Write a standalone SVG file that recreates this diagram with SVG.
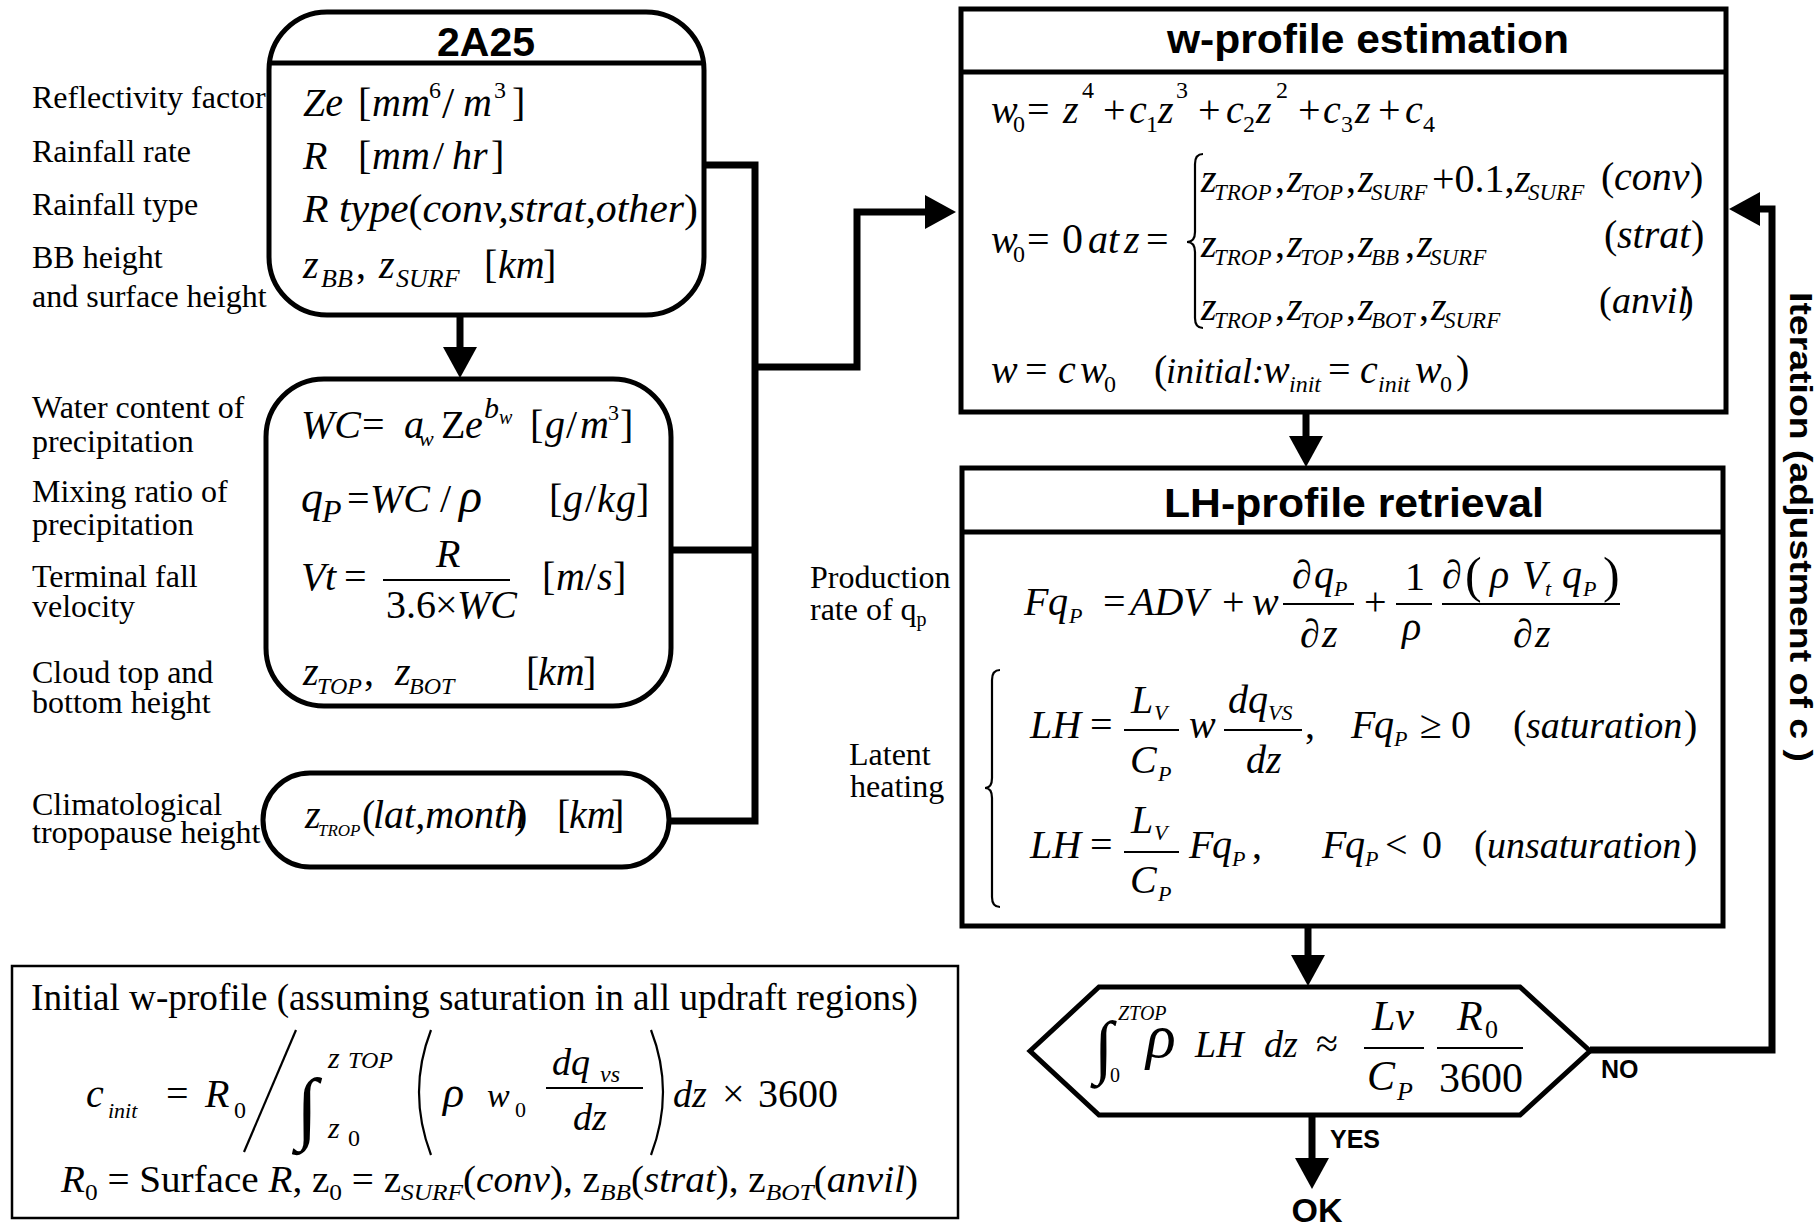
<svg xmlns="http://www.w3.org/2000/svg" width="1816" height="1230" viewBox="0 0 1816 1230">
<style>
.bx{fill:#fff;stroke:#000;stroke-width:5}
.bt{fill:#fff;stroke:#000;stroke-width:2.5}
.hl{stroke:#000;stroke-width:5}
.cn{fill:none;stroke:#000;stroke-width:7;stroke-linejoin:miter}
.fl{stroke:#000;stroke-width:2}
.dl{fill:none;stroke:#000;stroke-width:2.2}
text{font-family:"Liberation Serif","Times New Roman",serif;fill:#000}
.lb{font-size:32px}
.m{font-size:40px;font-style:italic}
.u{font-style:normal}
.h{font-family:"Liberation Sans",Arial,sans-serif;font-weight:bold}
</style>
<defs>
<marker id="ah" markerUnits="userSpaceOnUse" markerWidth="32" markerHeight="36" refX="0" refY="17" orient="auto" overflow="visible">
<path d="M0,0 L31,17 L0,34 z" fill="#000"/>
</marker>
</defs>
<rect width="1816" height="1230" fill="#fff"/>

<g id="connectors">
<path class="cn" d="M704,165 H755 V821 H669"/>
<path class="cn" d="M671,550 H755"/>
<path class="cn" d="M755,367 H857 V212 H925" marker-end="url(#ah)"/>
<path class="cn" d="M460,315 V347" marker-end="url(#ah)"/>
<path class="cn" d="M1306,412 V436" marker-end="url(#ah)"/>
<path class="cn" d="M1308,926 V955" marker-end="url(#ah)"/>
<path class="cn" d="M1312,1115 V1158" marker-end="url(#ah)"/>
<path class="cn" d="M1590,1050 H1772 V209 H1760" marker-end="url(#ah)"/>
<text class="h" font-size="25" x="1330" y="1148">YES</text>
<text class="h" font-size="25" x="1601" y="1078">NO</text>
<text class="h" font-size="32" textLength="470" lengthAdjust="spacingAndGlyphs" transform="translate(1790,292) rotate(90)">Iteration (adjustment of c )</text>
</g>

<g id="n2a25">
<rect class="bx" x="269" y="12" width="435" height="303" rx="58" stroke-width="4.5"/>
<line class="hl" x1="270" y1="63" x2="703" y2="63" stroke-width="4.5"/>
<text class="h" font-size="41" x="486" y="56" text-anchor="middle">2A25</text>
<text class="m"><tspan x="303" y="116">Ze</tspan><tspan class="u" x="358" y="116">[</tspan><tspan x="372" y="116">mm</tspan><tspan class="u" x="429" y="98" font-size="24">6</tspan><tspan class="u" x="442" y="118" font-size="44">/</tspan><tspan x="463" y="116">m</tspan><tspan class="u" x="494" y="98" font-size="24">3</tspan><tspan class="u" x="512" y="116">]</tspan></text>
<text class="m"><tspan x="303" y="169">R</tspan><tspan class="u" x="358" y="169">[</tspan><tspan x="372" y="169">mm</tspan><tspan class="u" x="433" y="169">/</tspan><tspan x="452" y="169">hr</tspan><tspan class="u" x="491" y="169">]</tspan></text>
<text class="m" x="303" y="222" textLength="395" lengthAdjust="spacingAndGlyphs">R type<tspan class="u">(</tspan>conv,strat,other<tspan class="u">)</tspan></text>
<text class="m"><tspan x="303" y="278">z</tspan><tspan x="321" y="287" font-size="26">BB</tspan><tspan class="u" x="356" y="278">,</tspan><tspan x="379" y="278">z</tspan><tspan x="396" y="287" font-size="26">SURF</tspan><tspan class="u" x="484" y="278">[</tspan><tspan x="498" y="278">km</tspan><tspan class="u" x="543" y="278">]</tspan></text>
</g>
<g id="lbl2a25">
<text class="lb" x="32" y="108">Reflectivity factor</text>
<text class="lb" x="32" y="162">Rainfall rate</text>
<text class="lb" x="32" y="215">Rainfall type</text>
<text class="lb" x="32" y="268">BB height</text>
<text class="lb" x="32" y="307">and surface height</text>
</g>

<g id="nwc">
<rect class="bx" x="266" y="379" width="405" height="327" rx="58" stroke-width="4.5"/>
<text class="m"><tspan x="301" y="438">WC</tspan><tspan class="u" x="362" y="438">=</tspan><tspan x="404" y="438">a</tspan><tspan x="419" y="446" font-size="22">w</tspan><tspan class="u" x="441" y="438">Z</tspan><tspan x="465" y="438">e</tspan><tspan x="484" y="418" font-size="30">b</tspan><tspan x="499" y="424" font-size="20">w</tspan><tspan class="u" x="530" y="438">[</tspan><tspan x="545" y="438">g</tspan><tspan class="u" x="566" y="438">/</tspan><tspan x="580" y="438">m</tspan><tspan class="u" x="608" y="420" font-size="22">3</tspan><tspan class="u" x="620" y="438">]</tspan></text>
<text class="m"><tspan x="301" y="512" font-size="44">q</tspan><tspan x="322" y="522" font-size="32">P</tspan><tspan class="u" x="347" y="512">=</tspan><tspan x="370" y="512">WC</tspan><tspan class="u" x="440" y="512">/</tspan><tspan x="459" y="512" font-size="48">ρ</tspan><tspan class="u" x="549" y="512">[</tspan><tspan x="563" y="512">g</tspan><tspan class="u" x="585" y="512">/</tspan><tspan x="597" y="512">k</tspan><tspan x="616" y="512">g</tspan><tspan class="u" x="636" y="512">]</tspan></text>
<text class="m"><tspan x="301" y="590">V</tspan><tspan x="325" y="590">t</tspan><tspan class="u" x="344" y="590">=</tspan><tspan x="436" y="567">R</tspan><tspan class="u" x="386" y="618">3.6</tspan><tspan class="u" x="435" y="618">×</tspan><tspan x="457" y="618">WC</tspan><tspan class="u" x="542" y="590">[</tspan><tspan x="556" y="590">m</tspan><tspan class="u" x="585" y="590">/</tspan><tspan x="597" y="590">s</tspan><tspan class="u" x="613" y="590">]</tspan></text>
<line class="fl" x1="383" y1="580" x2="510" y2="580"/>
<text class="m" font-size="34"><tspan x="303" y="685">z</tspan><tspan x="317" y="694" font-size="24">TOP</tspan><tspan class="u" x="364" y="685">,</tspan><tspan x="395" y="685">z</tspan><tspan x="409" y="694" font-size="24">BOT</tspan><tspan class="u" x="526" y="685">[</tspan><tspan x="538" y="685">km</tspan><tspan class="u" x="583" y="685">]</tspan></text>
</g>
<g id="lblwc">
<text class="lb" x="32" y="418">Water content of</text>
<text class="lb" x="32" y="452">precipitation</text>
<text class="lb" x="32" y="502">Mixing ratio of</text>
<text class="lb" x="32" y="535">precipitation</text>
<text class="lb" x="32" y="587">Terminal fall</text>
<text class="lb" x="32" y="617">velocity</text>
<text class="lb" x="32" y="683">Cloud top and</text>
<text class="lb" x="32" y="713">bottom height</text>
</g>

<g id="ntrop">
<rect class="bx" x="263" y="773" width="406" height="94" rx="47" stroke-width="4.5"/>
<text class="m" font-size="34"><tspan x="305" y="828">z</tspan><tspan x="318" y="836" font-size="17">TROP</tspan><tspan class="u" x="362" y="828">(</tspan><tspan x="373" y="828">lat,month</tspan><tspan class="u" x="514" y="828">)</tspan><tspan class="u" x="557" y="828">[</tspan><tspan x="569" y="828">km</tspan><tspan class="u" x="611" y="828">]</tspan></text>
<text class="lb" x="32" y="815">Climatological</text>
<text class="lb" x="32" y="843">tropopause height</text>
</g>

<g id="ninit">
<rect class="bt" x="12" y="966" width="946" height="252"/>
<text font-size="37" x="31" y="1010" textLength="887" lengthAdjust="spacingAndGlyphs">Initial w-profile (assuming saturation in all updraft regions)</text>
<text class="m" font-size="40"><tspan x="86" y="1107">c</tspan><tspan x="108" y="1118" font-size="22">init</tspan><tspan class="u" x="166" y="1107">=</tspan><tspan x="205" y="1107">R</tspan><tspan class="u" x="234" y="1118" font-size="24">0</tspan><tspan class="u" x="296" y="1134" font-size="80">∫</tspan><tspan x="328" y="1068" font-size="30">z</tspan><tspan x="348" y="1068" font-size="24">TOP</tspan><tspan x="328" y="1138" font-size="30">z</tspan><tspan class="u" x="348" y="1146" font-size="24">0</tspan><tspan x="443" y="1107" font-size="44">ρ</tspan><tspan x="487" y="1107" font-size="34">w</tspan><tspan class="u" x="515" y="1117" font-size="22">0</tspan><tspan x="552" y="1075" font-size="38">dq</tspan><tspan x="600" y="1082" font-size="24">vs</tspan><tspan x="573" y="1130" font-size="38">dz</tspan><tspan x="673" y="1107" font-size="38">dz</tspan><tspan class="u" x="722" y="1107">×</tspan><tspan class="u" x="758" y="1107">3600</tspan></text>
<line class="dl" x1="296" y1="1030" x2="244" y2="1152"/>
<path class="dl" d="M431,1030 Q407,1092 431,1155"/>
<path class="dl" d="M651,1030 Q675,1092 651,1155"/>
<line class="fl" x1="546" y1="1088" x2="643" y2="1088"/>
<text font-size="37" x="61" y="1192" textLength="857" lengthAdjust="spacingAndGlyphs"><tspan font-style="italic">R</tspan><tspan font-size="24" dy="8">0</tspan><tspan dy="-8"> = Surface </tspan><tspan font-style="italic">R</tspan>,  z<tspan font-size="24" dy="8">0</tspan><tspan dy="-8"> = z</tspan><tspan font-size="24" dy="8" font-style="italic">SURF</tspan><tspan dy="-8">(</tspan><tspan font-style="italic">conv</tspan>), z<tspan font-size="24" dy="8" font-style="italic">BB</tspan><tspan dy="-8">(</tspan><tspan font-style="italic">strat</tspan>), z<tspan font-size="24" dy="8" font-style="italic">BOT</tspan><tspan dy="-8">(</tspan><tspan font-style="italic">anvil</tspan>)</text>
</g>

<g id="nwprof">
<rect class="bx" x="961" y="9" width="765" height="403"/>
<line class="hl" x1="961" y1="72" x2="1726" y2="72"/>
<text class="h" font-size="40" x="1368" y="53" text-anchor="middle" textLength="402" lengthAdjust="spacingAndGlyphs">w-profile estimation</text>
<text class="m" font-size="38"><tspan x="991" y="123">w</tspan><tspan class="u" x="1013" y="132" font-size="24">0</tspan><tspan class="u" x="1027" y="123">=</tspan><tspan x="1063" y="123">z</tspan><tspan class="u" x="1082" y="98" font-size="24">4</tspan><tspan class="u" x="1103" y="123">+</tspan><tspan x="1129" y="123">c</tspan><tspan class="u" x="1146" y="132" font-size="24">1</tspan><tspan x="1158" y="123">z</tspan><tspan class="u" x="1176" y="98" font-size="24">3</tspan><tspan class="u" x="1198" y="123">+</tspan><tspan x="1226" y="123">c</tspan><tspan class="u" x="1243" y="132" font-size="24">2</tspan><tspan x="1256" y="123">z</tspan><tspan class="u" x="1276" y="98" font-size="24">2</tspan><tspan class="u" x="1298" y="123">+</tspan><tspan x="1323" y="123">c</tspan><tspan class="u" x="1341" y="132" font-size="24">3</tspan><tspan x="1355" y="123">z</tspan><tspan class="u" x="1378" y="123">+</tspan><tspan x="1405" y="123">c</tspan><tspan class="u" x="1423" y="132" font-size="24">4</tspan></text>
<text class="m" font-size="38"><tspan x="991" y="253">w</tspan><tspan class="u" x="1013" y="262" font-size="24">0</tspan><tspan class="u" x="1027" y="253">=</tspan><tspan class="u" x="1062" y="253" font-size="42">0</tspan><tspan x="1088" y="253">at</tspan><tspan x="1124" y="253">z</tspan><tspan class="u" x="1146" y="253">=</tspan></text>
<path class="dl" d="M1203,154 Q1195,154 1195,164 L1195,232 Q1195,242 1187,242 Q1195,242 1195,252 L1195,318 Q1195,328 1203,328"/>
<text class="m" font-size="34"><tspan x="1201" y="192">z</tspan><tspan x="1214" y="200" font-size="23">TROP</tspan><tspan class="u" x="1275" y="192">,</tspan><tspan x="1287" y="192">z</tspan><tspan x="1300" y="200" font-size="23">TOP</tspan><tspan class="u" x="1346" y="192">,</tspan><tspan x="1358" y="192">z</tspan><tspan x="1371" y="200" font-size="23">SURF</tspan><tspan class="u" x="1432" y="192">+0.1,</tspan><tspan x="1515" y="192">z</tspan><tspan x="1528" y="200" font-size="23">SURF</tspan><tspan class="u" x="1601" y="190" font-size="40">(</tspan><tspan x="1614" y="190" font-size="40">conv</tspan><tspan class="u" x="1690" y="190" font-size="40">)</tspan></text>
<text class="m" font-size="34"><tspan x="1201" y="257">z</tspan><tspan x="1214" y="265" font-size="23">TROP</tspan><tspan class="u" x="1275" y="257">,</tspan><tspan x="1287" y="257">z</tspan><tspan x="1300" y="265" font-size="23">TOP</tspan><tspan class="u" x="1346" y="257">,</tspan><tspan x="1358" y="257">z</tspan><tspan x="1371" y="265" font-size="23">BB</tspan><tspan class="u" x="1405" y="257">,</tspan><tspan x="1417" y="257">z</tspan><tspan x="1430" y="265" font-size="23">SURF</tspan><tspan class="u" x="1604" y="248" font-size="40">(</tspan><tspan x="1617" y="248" font-size="40">strat</tspan><tspan class="u" x="1691" y="248" font-size="40">)</tspan></text>
<text class="m" font-size="34"><tspan x="1201" y="320">z</tspan><tspan x="1214" y="328" font-size="23">TROP</tspan><tspan class="u" x="1275" y="320">,</tspan><tspan x="1287" y="320">z</tspan><tspan x="1300" y="328" font-size="23">TOP</tspan><tspan class="u" x="1346" y="320">,</tspan><tspan x="1358" y="320">z</tspan><tspan x="1371" y="328" font-size="23">BOT</tspan><tspan class="u" x="1419" y="320">,</tspan><tspan x="1431" y="320">z</tspan><tspan x="1444" y="328" font-size="23">SURF</tspan><tspan class="u" x="1599" y="313" font-size="38">(</tspan><tspan x="1612" y="313" font-size="38">anvil</tspan><tspan class="u" x="1681" y="313" font-size="38">)</tspan></text>
<text class="m" font-size="38"><tspan x="991" y="383">w</tspan><tspan class="u" x="1025" y="383">=</tspan><tspan x="1058" y="383">c</tspan><tspan x="1080" y="383">w</tspan><tspan class="u" x="1104" y="392" font-size="24">0</tspan><tspan class="u" x="1154" y="383">(</tspan><tspan x="1166" y="383" font-size="36">initial:</tspan><tspan x="1263" y="383">w</tspan><tspan x="1289" y="392" font-size="24">init</tspan><tspan class="u" x="1328" y="383">=</tspan><tspan x="1360" y="383">c</tspan><tspan x="1378" y="392" font-size="24">init</tspan><tspan x="1415" y="383">w</tspan><tspan class="u" x="1440" y="392" font-size="24">0</tspan><tspan class="u" x="1456" y="383">)</tspan></text>
</g>

<g id="nlh">
<rect class="bx" x="962" y="468" width="761" height="458"/>
<line class="hl" x1="962" y1="532" x2="1723" y2="532"/>
<text class="h" font-size="40" x="1354" y="517" text-anchor="middle" textLength="380" lengthAdjust="spacingAndGlyphs">LH-profile retrieval</text>
<text class="m"><tspan x="1024" y="615">F</tspan><tspan x="1048" y="615">q</tspan><tspan x="1069" y="623" font-size="22">P</tspan><tspan class="u" x="1103" y="615">=</tspan><tspan x="1130" y="615">ADV</tspan><tspan class="u" x="1222" y="615">+</tspan><tspan x="1252" y="615">w</tspan><tspan class="u" x="1292" y="588">∂</tspan><tspan x="1314" y="588">q</tspan><tspan x="1334" y="596" font-size="22">P</tspan><tspan class="u" x="1300" y="647">∂</tspan><tspan x="1322" y="647">z</tspan><tspan class="u" x="1364" y="615">+</tspan><tspan class="u" x="1405" y="590">1</tspan><tspan x="1402" y="640">ρ</tspan><tspan class="u" x="1442" y="588">∂</tspan><tspan class="u" x="1465" y="592" font-size="50">(</tspan><tspan x="1490" y="588">ρ</tspan><tspan x="1522" y="588">V</tspan><tspan x="1545" y="596" font-size="22">t</tspan><tspan x="1562" y="588">q</tspan><tspan x="1583" y="596" font-size="22">P</tspan><tspan class="u" x="1603" y="592" font-size="50">)</tspan><tspan class="u" x="1513" y="647">∂</tspan><tspan x="1535" y="647">z</tspan></text>
<line class="fl" x1="1283" y1="604" x2="1354" y2="604"/>
<line class="fl" x1="1396" y1="604" x2="1432" y2="604"/>
<line class="fl" x1="1442" y1="604" x2="1620" y2="604"/>
<path class="dl" d="M1000,670 Q992,670 992,680 L992,778 Q992,788 985,788 Q992,788 992,798 L992,897 Q992,907 1000,907"/>
<text class="m"><tspan x="1030" y="738">LH</tspan><tspan class="u" x="1090" y="738">=</tspan><tspan x="1131" y="713">L</tspan><tspan x="1154" y="720" font-size="22">V</tspan><tspan x="1130" y="773">C</tspan><tspan x="1158" y="781" font-size="22">P</tspan><tspan x="1189" y="738">w</tspan><tspan x="1228" y="713">dq</tspan><tspan x="1268" y="720" font-size="22">VS</tspan><tspan x="1246" y="773">dz</tspan><tspan class="u" x="1305" y="738">,</tspan><tspan x="1351" y="738">F</tspan><tspan x="1374" y="738">q</tspan><tspan x="1394" y="746" font-size="22">P</tspan><tspan class="u" x="1420" y="738">≥</tspan><tspan class="u" x="1451" y="738">0</tspan><tspan class="u" x="1513" y="738">(</tspan><tspan x="1526" y="738" font-size="38">saturation</tspan><tspan class="u" x="1684" y="738">)</tspan></text>
<line class="fl" x1="1124" y1="730" x2="1179" y2="730"/>
<line class="fl" x1="1224" y1="730" x2="1302" y2="730"/>
<text class="m"><tspan x="1030" y="858">LH</tspan><tspan class="u" x="1090" y="858">=</tspan><tspan x="1131" y="833">L</tspan><tspan x="1154" y="840" font-size="22">V</tspan><tspan x="1130" y="893">C</tspan><tspan x="1158" y="901" font-size="22">P</tspan><tspan x="1189" y="858">F</tspan><tspan x="1212" y="858">q</tspan><tspan x="1232" y="866" font-size="22">P</tspan><tspan class="u" x="1252" y="858">,</tspan><tspan x="1322" y="858">F</tspan><tspan x="1345" y="858">q</tspan><tspan x="1365" y="866" font-size="22">P</tspan><tspan class="u" x="1385" y="858">&lt;</tspan><tspan class="u" x="1422" y="858">0</tspan><tspan class="u" x="1474" y="858">(</tspan><tspan x="1487" y="858" font-size="38">unsaturation</tspan><tspan class="u" x="1684" y="858">)</tspan></text>
<line class="fl" x1="1124" y1="852" x2="1179" y2="852"/>
<text class="lb" x="810" y="588">Production</text>
<text class="lb" x="810" y="620">rate of q<tspan font-size="20" dy="6">p</tspan></text>
<text class="lb" x="849" y="765">Latent</text>
<text class="lb" x="850" y="797">heating</text>
</g>

<g id="ncheck">
<polygon class="bx" points="1030,1051 1099,987 1520,987 1590,1051 1520,1115 1099,1115"/>
<text class="m"><tspan class="u" x="1094" y="1070" font-size="70">∫</tspan><tspan x="1118" y="1020" font-size="20">ZTOP</tspan><tspan class="u" x="1110" y="1082" font-size="20">0</tspan><tspan x="1146" y="1057" font-size="62">ρ</tspan><tspan x="1195" y="1057" font-size="38">LH</tspan><tspan x="1264" y="1057" font-size="38">dz</tspan><tspan class="u" x="1316" y="1057">≈</tspan><tspan x="1372" y="1030" font-size="42">Lv</tspan><tspan x="1367" y="1090" font-size="42">C</tspan><tspan x="1397" y="1100" font-size="26">P</tspan><tspan x="1457" y="1030" font-size="42">R</tspan><tspan class="u" x="1485" y="1038" font-size="26">0</tspan><tspan class="u" x="1439" y="1092" font-size="42">3600</tspan></text>
<line class="fl" x1="1364" y1="1048" x2="1424" y2="1048"/>
<line class="fl" x1="1437" y1="1048" x2="1523" y2="1048"/>
</g>
<text class="h" font-size="34" x="1317" y="1222" text-anchor="middle">OK</text>
</svg>
